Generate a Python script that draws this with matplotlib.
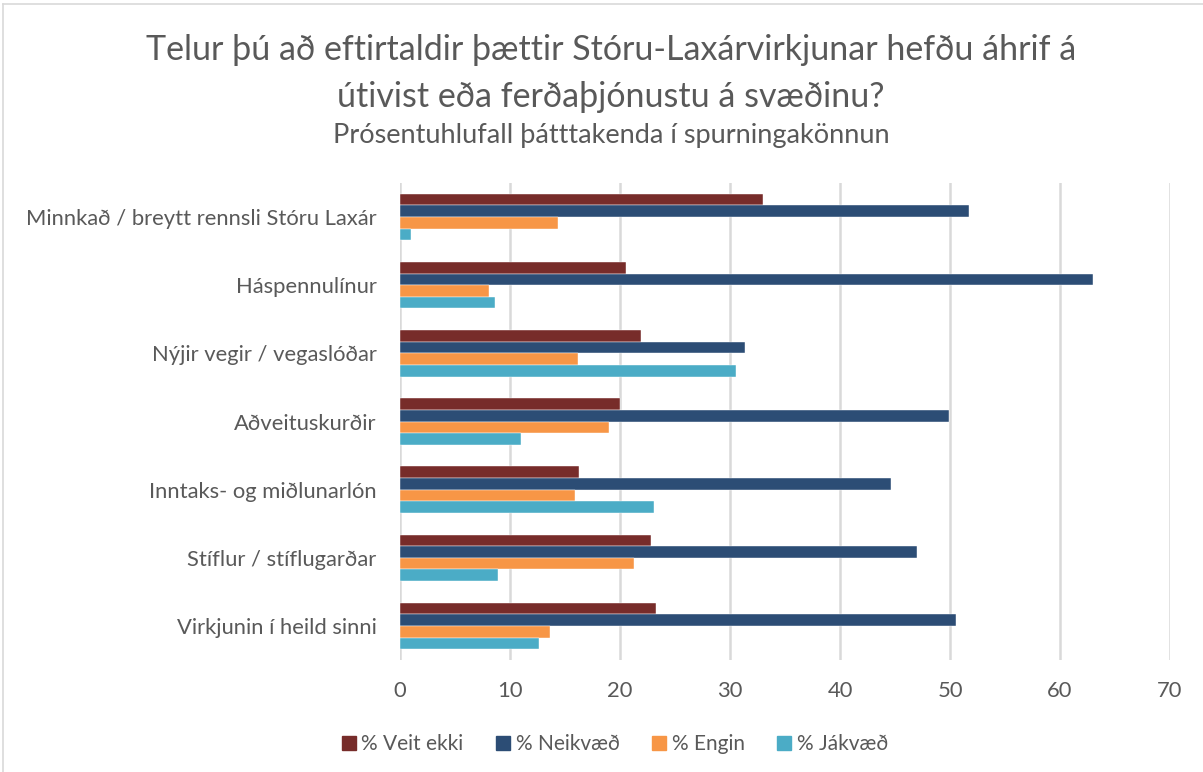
import matplotlib.pyplot as plt
import numpy as np
from matplotlib.lines import Line2D

categories = ['Minnkað / breytt rennsli Stóru Laxár', 'Háspennulínur',
              'Nýjir vegir / vegaslóðar', 'Aðveituskurðir',
              'Inntaks- og miðlunarlón', 'Stíflur / stíflugarðar',
              'Virkjunin í heild sinni']
veit_ekki = [33.0, 20.5, 21.9, 20.0, 16.3, 22.8, 23.3]
neikvaed = [51.7, 63.0, 31.4, 49.9, 44.6, 47.0, 50.5]
engin = [14.4, 8.1, 16.2, 19.0, 15.9, 21.3, 13.6]
jakvaed = [1.0, 8.6, 30.5, 11.0, 23.1, 8.9, 12.6]

series = [('% Veit ekki', veit_ekki, '#772C2A'),
          ('% Neikvæð', neikvaed, '#2C4D75'),
          ('% Engin', engin, '#F79646'),
          ('% Jákvæð', jakvaed, '#4BACC6')]

plt.rcParams['font.family'] = ['Lato', 'DejaVu Sans']
grey = '#595959'

fig = plt.figure(figsize=(12.03, 7.72), dpi=100)
ax = fig.add_axes([400 / 1203, 1 - 660 / 772, 770 / 1203, 477 / 772])

n = len(categories)
y = np.arange(n)
h = 0.17
for i, (name, vals, col) in enumerate(series):
    ax.barh(y - 1.5 * h + i * h, vals, height=h, color=col, label=name,
            edgecolor='white', linewidth=0.3, zorder=3)

ax.set_xlim(0, 70)
ax.set_ylim(n - 0.5, -0.5)
ax.set_xticks(range(0, 71, 10))
ax.set_yticks(y)
ax.set_yticklabels(categories)
ax.tick_params(axis='both', length=0, colors=grey, labelsize=15.8)
ax.tick_params(axis='x', pad=15)
ax.tick_params(axis='y', pad=17)
ax.grid(axis='x', color='#D9D9D9', linewidth=1.8, zorder=0)
for s in ax.spines.values():
    s.set_visible(False)

fig.text(0.508, 1 - 50 / 772, 'Telur þú að eftirtaldir þættir Stóru-Laxárvirkjunar hefðu áhrif á',
         ha='center', va='center', fontsize=24.5, color=grey)
fig.text(0.508, 1 - 97 / 772, 'útivist eða ferðaþjónustu á svæðinu?',
         ha='center', va='center', fontsize=24.5, color=grey)
fig.text(0.508, 1 - 135 / 772, 'Prósentuhlufall þátttakenda í spurningakönnun',
         ha='center', va='center', fontsize=19.5, color=grey)

handles = [Line2D([], [], marker='s', linestyle='none', markersize=10,
                  markerfacecolor=c, markeredgecolor=c) for _, _, c in series]
fig.legend(handles, [s[0] for s in series], loc='center',
           bbox_to_anchor=(0.511, 1 - 744 / 772), ncol=4, frameon=False,
           fontsize=15, labelcolor=grey, handlelength=0.7, handletextpad=0.25,
           columnspacing=1.55)

# chart frame (top and left edges visible)
fig.add_artist(Line2D([3 / 1203, 1], [1 - 4 / 772, 1 - 4 / 772], color='#D9D9D9', lw=1.2))
fig.add_artist(Line2D([3 / 1203, 3 / 1203], [0, 1 - 4 / 772], color='#D9D9D9', lw=1.2))

fig.savefig('out.png', dpi=100)
